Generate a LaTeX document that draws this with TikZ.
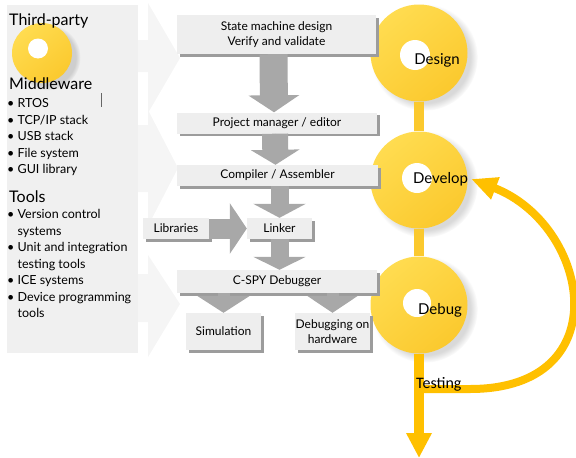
\documentclass[tikz,border=0pt]{standalone}
\usepackage{fontspec}
\setmainfont{Lato}
\newfontfamily\calibrifont{Carlito}
\usetikzlibrary{arrows.meta,shadows,calc}

\definecolor{panelgray}{HTML}{F0F0F0}
\definecolor{palegray}{HTML}{F5F5F5}
\definecolor{boxgray}{HTML}{EEEEEE}
\definecolor{arrowgray}{HTML}{A8A8A8}
\definecolor{shadowgray}{HTML}{9C9C9C}
\definecolor{stagelight}{HTML}{FFDC50}
\definecolor{stagedark}{HTML}{FBC92E}
\definecolor{testorange}{HTML}{FFC000}

\begin{document}
\begin{tikzpicture}[x=1pt,y=-1pt,
    panelhead/.style={anchor=base west,inner sep=0pt,font=\fontsize{16}{19}\selectfont},
    paneltext/.style={anchor=north west,align=left,inner sep=0pt,font=\fontsize{12.5}{16.5}\selectfont},
    flowbox/.style={fill=boxgray,inner sep=0pt,align=center,font=\fontsize{12}{15.5}\selectfont,
        drop shadow={shadow xshift=2.5pt,shadow yshift=-2.5pt,fill=shadowgray,opacity=1}},
    flowarrow/.style={draw=arrowgray,fill=arrowgray},
    stage/.style={circle,minimum size=97pt,inner sep=0pt,top color=stagelight,bottom color=stagedark,
        shading angle=40,circular drop shadow={shadow xshift=5pt,shadow yshift=-4pt,opacity=.3}},
    stagedot/.style={circle,fill=white,minimum size=30pt,inner sep=0pt},
    stagelabel/.style={inner sep=1pt,font=\fontsize{15}{18}\selectfont},
    stagebar/.style={draw=stagedark,line width=10pt},
    testline/.style={draw=testorange,fill=testorange}]
    \useasboundingbox (0,0) rectangle (576,458);

    % left panel and the pale arrows
    \fill[panelgray] (7,5) rectangle (138,353);
    \fill[palegray] (138,40) -- (148,40) -- (148,3) -- (180,58) -- (148,113) -- (148,72) -- (138,72) -- cycle;
    \fill[palegray] (138,125) -- (148,125) -- (148,110) -- (178,168) -- (148,226) -- (148,192) -- (138,192) -- cycle;
    \fill[palegray] (138,274) -- (148,274) -- (148,255) -- (180,304) -- (148,357) -- (148,322) -- (138,322) -- cycle;

    \node[stage,minimum size=60pt,circular drop shadow={opacity=0}] (thirdcircle) at (42,53) {};
    \node[stagedot,minimum size=20pt] (thirddot) at (38,48.5) {};

    \node[panelhead] (thirdparty) at (9,25) {Third-party};
    \node[panelhead] (middleware) at (9,89) {Middleware};
    \node[paneltext] (mwlist) at (7,98.5) {\textbullet\ RTOS\\ \textbullet\ TCP/IP stack\\ \textbullet\ USB stack\\
        \textbullet\ File system\\ \textbullet\ GUI library};
    \draw[black!60,line width=0.8pt] (101,93) -- (101,107);
    \node[panelhead] (tools) at (9,202) {Tools};
    \node[paneltext] (toollist) at (7,209.5) {\textbullet\ Version control\\ \phantom{\textbullet\ }systems\\
        \textbullet\ Unit and integration\\ \phantom{\textbullet\ }testing tools\\ \textbullet\ ICE systems\\
        \textbullet\ Device programming\\ \phantom{\textbullet\ }tools};

    % stages
    \node[stage] (design) at (419,53) {};
    \node[stage] (develop) at (419,180) {};
    \node[stage] (debug) at (419,305) {};
    \draw[stagebar] (design.south) -- (develop.north);
    \draw[stagebar] (develop.south) -- (debug.north);
    \node[stagedot] (designdot) at (415,55) {};
    \node[stagedot] (developdot) at (417,178) {};
    \node[stagedot,minimum size=28pt] (debugdot) at (417,303) {};
    \node[stagelabel] (designlbl) at (437,60) {Design};
    \node[stagelabel] (developlbl) at (440.5,179) {Develop};
    \node[stagelabel] (debuglbl) at (440,310) {Debug};

    % tool chain
    \node[flowbox,minimum width=199pt,minimum height=39pt] (sm) at (276.5,34.5)
        {State machine design\\ Verify and validate};
    \node[flowbox,minimum width=200pt,minimum height=21pt] (pm) at (277,123) {Project manager / editor};
    \node[flowbox,minimum width=201pt,minimum height=21pt] (ca) at (277.5,175.5) {Compiler / Assembler};
    \node[flowbox,minimum width=66pt,minimum height=21pt] (lib) at (176,228.5) {Libraries};
    \node[flowbox,minimum width=65pt,minimum height=21pt] (lnk) at (279.5,228.5) {Linker};
    \node[flowbox,minimum width=200pt,minimum height=23pt] (cspy) at (277,281.5) {C-SPY Debugger};
    \node[flowbox,minimum width=75pt,minimum height=37pt] (sim) at (223.5,331.5) {Simulation};
    \node[flowbox,minimum width=75pt,minimum height=37pt] (dbg) at (332.5,331.5) {Debugging on\\ hardware};

    \draw[flowarrow,line width=28pt,-{Triangle[width=50pt,length=17pt]}] ([xshift=-3pt]sm.south) -- ([xshift=-3pt]pm.north);
    \draw[flowarrow,line width=26pt,-{Triangle[width=48pt,length=15pt]}] ([xshift=-2pt]pm.south) -- ([xshift=-2pt]ca.north);
    \draw[flowarrow,line width=18pt,-{Triangle[width=52pt,length=14pt]}] (ca.south -| lnk.north) -- (lnk.north);
    \draw[flowarrow,line width=18pt,-{Triangle[width=52pt,length=13pt]}] (lnk.south) -- (lnk.south |- cspy.north);
    \draw[flowarrow,line width=20pt,-{Triangle[width=50pt,length=17pt]}] (lib.east) -- (lnk.west);
    \draw[flowarrow,line width=12pt,-{Triangle[width=52pt,length=17pt]}] (cspy.south -| sim.north) -- (sim.north);
    \draw[flowarrow,line width=12pt,-{Triangle[width=50pt,length=17pt]}] (cspy.south -| dbg.north) -- (dbg.north);

    % testing loop
    \coordinate (testend) at (419,458);
    \coordinate (loopstart) at (419,389);
    \draw[testline,line width=10pt,-{Triangle[width=24pt,length=25pt]}] (debug.south) -- (testend);
    \draw[testline,fill=none,line width=8pt,-{Triangle[width=22pt,length=26pt,fill=testorange]}] (loopstart) -- (470,389)
        .. controls (620,389) and (590,225) .. ([xshift=2pt]developlbl.east);
    \node[anchor=base west,inner sep=0pt,font=\calibrifont\fontsize{16}{18}\selectfont] (testing) at (416,388) {Testing};
\end{tikzpicture}
\end{document}
